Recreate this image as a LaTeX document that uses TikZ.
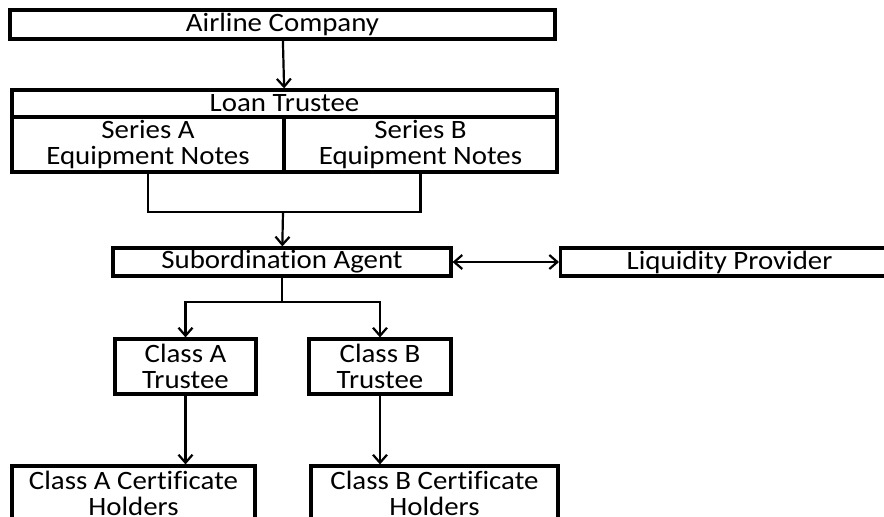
\documentclass[tikz,border=0pt]{standalone}
\usepackage{fontspec}
\setmainfont[FakeStretch=1.09,Ligatures=NoCommon]{Carlito}
\usetikzlibrary{arrows.meta}

\begin{document}
\begin{tikzpicture}[x=1pt,y=-1pt,
		box/.style={draw,line width=3.2pt,inner sep=0pt,align=center,
			font=\fontsize{26.5}{26}\selectfont},
		link/.style={line width=2.2pt},
		>={Straight Barb[length=8pt,width=14pt,line width=2.2pt]}]
		\clip (0,0) rectangle (884,517);
		\def\hsm{28}
		\def\hbig{55}
		% the top: company and loan trustee
		\node[box,minimum width=545,minimum height=29] (airline) at (282.5,24.5) {Airline Company};
		\node[box,minimum width=545,minimum height=27] (loan) at (284.5,103.5) {Loan Trustee};
		\node[box,minimum width=272,minimum height=\hbig] (seriesA) at (148,144.5) {Series A\\Equipment Notes};
		\node[box,minimum width=273,minimum height=\hbig] (seriesB) at (420.5,144.5) {Series B\\Equipment Notes};
		% the agent and the provider
		\node[box,minimum width=338,minimum height=\hsm] (sub) at (282,262) {Subordination Agent};
		\node[box,minimum width=338,minimum height=\hsm,anchor=west] (liq) at (559,262) {Liquidity Provider};
		% the trustees
		\node[box,minimum width=141,minimum height=\hbig] (trA) at (185.5,366.5) {Class A\\Trustee};
		\node[box,minimum width=142,minimum height=\hbig] (trB) at (380,366.5) {Class B\\Trustee};
		% the holders
		\node[box,minimum width=243,minimum height=\hbig] (hoA) at (133.5,493.5) {Class A Certificate\\Holders};
		\node[box,minimum width=247,minimum height=\hbig] (hoB) at (434.5,493.5) {Class B Certificate\\Holders};
		\coordinate (join) at (283,212);
		\coordinate (split) at (282,302);
		% connectors
		\draw[link,->] (airline) -- (loan);
		\draw[link] (seriesA) |- (join) -| (seriesB);
		\draw[link,->] (join) -- (sub);
		\draw[link,<->] (sub) -- (liq);
		\draw[link] (sub) -- (split);
		\draw[link,->] (split) -| (trA);
		\draw[link,->] (split) -| (trB);
		\draw[link,->] (trA) -- (trA |- hoA.north);
		\draw[link,->] (trB) -- (trB |- hoB.north);
	\end{tikzpicture}
\end{document}
